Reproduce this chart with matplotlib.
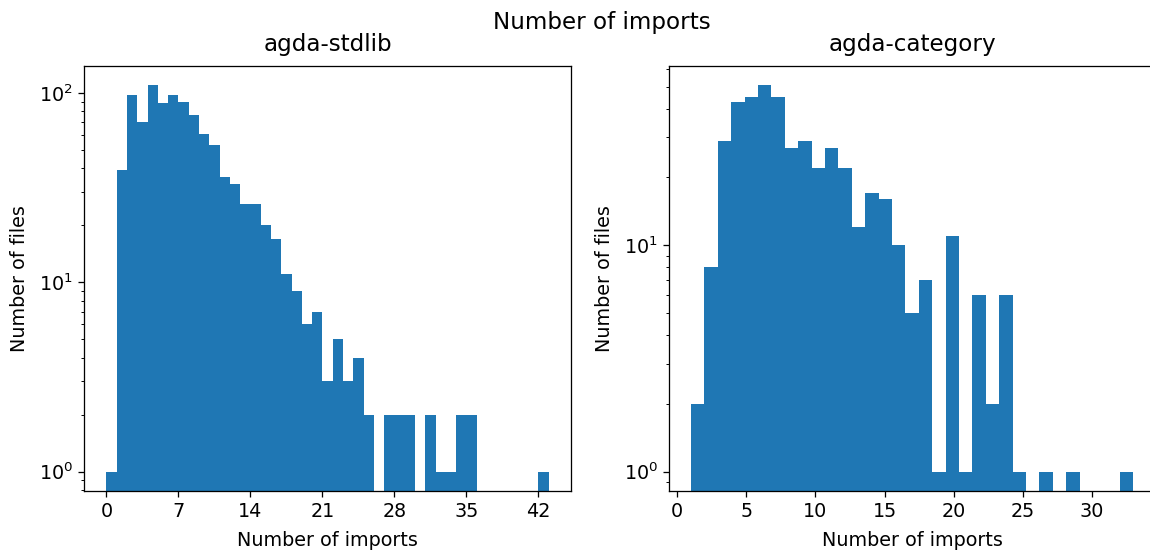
import numpy as np
import matplotlib
matplotlib.use('Agg')
import matplotlib.pyplot as plt

# Histogram counts (one count per bin)
stdlib_counts = [1, 39, 97, 70, 110, 88, 98, 89, 76, 61,
                 53, 36, 33, 26, 26, 20, 17, 11, 9, 6,
                 7, 3, 5, 3, 4, 2, 0, 2, 2, 2,
                 0, 2, 1, 1, 2, 2, 0, 0, 0, 0,
                 0, 0, 1]
stdlib_range = (0, 43)

category_counts = [2, 8, 29, 43, 45, 51, 45, 27, 29, 22,
                   27, 22, 12, 17, 16, 10, 5, 7, 1, 11,
                   1, 6, 2, 6, 1, 0, 1, 0, 1, 0,
                   0, 0, 1]
category_range = (1, 33)

stdlib_xticks = [0, 7, 14, 21, 28, 35, 42]
category_xticks = [0, 5, 10, 15, 20, 25, 30]

plt.rcParams['font.size'] = 12

fig = plt.figure(figsize=(10, 551 / 115), dpi=115)
ax1 = fig.add_axes([0.0733, 0.1089, 0.4230, 0.7719])
ax2 = fig.add_axes([0.5817, 0.1089, 0.4230, 0.7719])


def draw_hist(ax, counts, rng, title, xticks):
    edges = np.linspace(rng[0], rng[1], len(counts) + 1)
    ax.hist(edges[:-1], bins=edges, weights=counts, log=True, color='#1f77b4')
    ax.set_title(title, pad=9)
    ax.set_xlabel('Number of imports', labelpad=6)
    ax.set_ylabel('Number of files', labelpad=6)
    ax.set_xticks(xticks)


draw_hist(ax1, stdlib_counts, stdlib_range, 'agda-stdlib', stdlib_xticks)
draw_hist(ax2, category_counts, category_range, 'agda-category', category_xticks)

# the original figure was cropped on the right, so the title sits right of centre
fig.suptitle('Number of imports', x=0.5235, y=0.98)
fig.savefig('out.png', dpi=115)
